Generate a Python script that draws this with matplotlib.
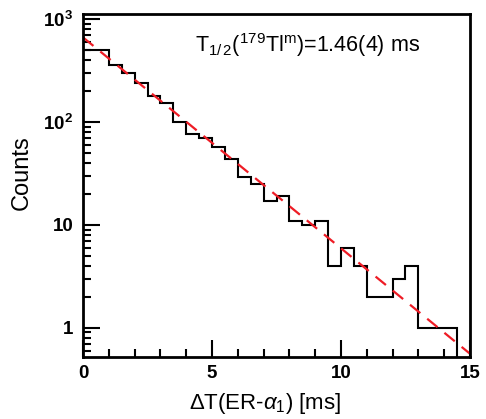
import numpy as np
import matplotlib
matplotlib.use('Agg')
import matplotlib.pyplot as plt
from matplotlib.ticker import FixedLocator, FixedFormatter, MultipleLocator, LogLocator, NullFormatter

plt.rcParams['font.family'] = 'Liberation Sans'
plt.rcParams['mathtext.fontset'] = 'custom'
plt.rcParams['mathtext.rm'] = 'Liberation Sans'
plt.rcParams['mathtext.it'] = 'Liberation Sans:italic'
plt.rcParams['mathtext.bf'] = 'Liberation Sans:bold'

# Histogram data (0.5 ms bins)
bin_edges = np.arange(0, 15.01, 0.5)
counts = [500, 500, 357, 296, 237, 179, 154, 100, 76, 70,
          57, 44, 29, 25, 17, 19, 11, 10, 11, 4,
          6, 4, 2, 2, 3, 4, 1, 1, 1, 0]

# Exponential fit
fit_amp = 660.0
half_life = 1.47
fit_t = np.linspace(0, 15, 200)
fit_y = fit_amp * np.exp(-np.log(2) * fit_t / half_life)

fig = plt.figure(figsize=(4.86, 4.19), dpi=100)
ax = fig.add_axes([0.171, 0.148, 0.796, 0.819])

ax.stairs(counts, bin_edges, baseline=None, color='black', lw=1.5)
ax.plot(fit_t, fit_y, color='#ee1c25', lw=1.6, dashes=(6, 4))

ax.set_yscale('log')
ax.set_xlim(0, 15)
ax.set_ylim(0.52, 1120)

ax.yaxis.set_major_locator(FixedLocator([1, 10, 100, 1000]))
ax.yaxis.set_major_formatter(FixedFormatter(['1', '10', r'$\mathbf{10^2}$', r'$\mathbf{10^3}$']))
ax.yaxis.set_minor_locator(LogLocator(base=10, subs=np.arange(2, 10)))
ax.yaxis.set_minor_formatter(NullFormatter())
ax.xaxis.set_major_locator(MultipleLocator(5))
ax.xaxis.set_minor_locator(MultipleLocator(1))

ax.tick_params(which='both', direction='in', top=False, right=False, width=1.5)
ax.tick_params(which='major', length=12, labelsize=13.5)
ax.tick_params(axis='y', which='major', pad=7)
ax.tick_params(axis='x', which='major', pad=6)
ax.tick_params(which='minor', length=6)
for lab in ax.get_xticklabels() + ax.get_yticklabels():
    lab.set_fontweight('bold')
for sp in ax.spines.values():
    sp.set_linewidth(2)

ax.set_xlabel(r'$\Delta$T(ER-$\alpha_1$) [ms]', fontsize=16)
ax.set_ylabel('Counts', fontsize=17)
ax.xaxis.set_label_coords(0.47, -0.1)
ax.yaxis.set_label_coords(-0.13, 0.536)

ax.text(0.29, 0.91, r'T$_{1/\,2}$($^{179}$Tl$^{\rm m}$)=1.46(4) ms', transform=ax.transAxes,
        fontsize=15.5, ha='left', va='center')

fig.savefig('out.png', dpi=100)
